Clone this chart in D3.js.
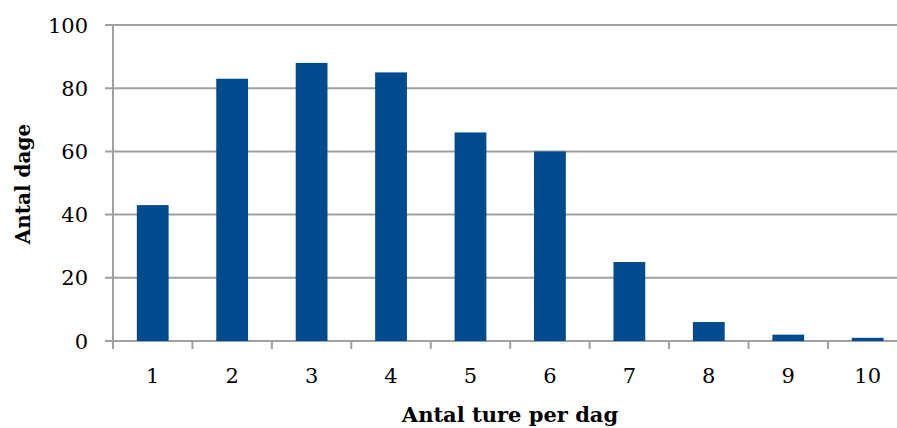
<!DOCTYPE html>
<html><head><meta charset="utf-8">
<script src="https://cdn.jsdelivr.net/npm/d3@7/dist/d3.min.js"></script>
<style>body{margin:0;background:#fff}svg{display:block}</style>
</head><body><svg id="c" width="897" height="428"></svg>
<script>
const categories = ["1","2","3","4","5","6","7","8","9","10"];
const values = [43, 83, 88, 85, 66, 60, 25, 6, 2, 1];
const yTicks = [0, 20, 40, 60, 80, 100];
const xTitle = "Antal ture per dag";
const yTitle = "Antal dage";

const svg = d3.select("#c");
const font = "'DejaVu Serif', serif";
const x = d3.scaleBand().domain(categories).range([113, 907.4]).paddingInner(0.6).paddingOuter(0.3);
const xb = d3.scaleBand().domain(categories).range([113, 907.4]);
const y = d3.scaleLinear().domain([0, 100]).range([341, 25]);
const grey = "#a0a0a0";

// gridlines
svg.append("g").selectAll("line").data(yTicks).join("line")
  .attr("x1", 105).attr("x2", 897)
  .attr("y1", d => y(d)).attr("y2", d => y(d))
  .attr("stroke", grey).attr("stroke-width", 2);
// y axis line
svg.append("line").attr("x1", 113).attr("x2", 113).attr("y1", y(100)).attr("y2", 349)
  .attr("stroke", grey).attr("stroke-width", 2);
// x ticks
svg.append("g").selectAll("line").data(categories.slice(1)).join("line")
  .attr("x1", d => xb(d)).attr("x2", d => xb(d)).attr("y1", 341).attr("y2", 349)
  .attr("stroke", grey).attr("stroke-width", 2);

// bars
svg.append("g").selectAll("rect").data(values).join("rect")
  .attr("x", (d, i) => x(categories[i]))
  .attr("width", x.bandwidth())
  .attr("y", d => y(d))
  .attr("height", d => y(0) - y(d))
  .attr("fill", "#004b8d");

// y tick labels
svg.append("g").selectAll("text").data(yTicks).join("text")
  .attr("x", 88).attr("y", d => y(d)).attr("dy", "0.36em")
  .attr("text-anchor", "end").attr("font-family", font).attr("font-size", 21)
  .attr("fill", "#000").text(d => d);
// x tick labels
svg.append("g").selectAll("text").data(categories).join("text")
  .attr("x", d => xb(d) + xb.bandwidth() / 2).attr("y", 383)
  .attr("text-anchor", "middle").attr("font-family", font).attr("font-size", 21)
  .attr("fill", "#000").text(d => d);

// titles
svg.append("text").attr("x", 510).attr("y", 422).attr("text-anchor", "middle")
  .attr("font-family", font).attr("font-size", 21).attr("font-weight", "bold").text(xTitle);
svg.append("text").attr("transform", "translate(30,184) rotate(-90)").attr("text-anchor", "middle")
  .attr("font-family", font).attr("font-size", 20).attr("font-weight", "bold").text(yTitle);
</script></body></html>
